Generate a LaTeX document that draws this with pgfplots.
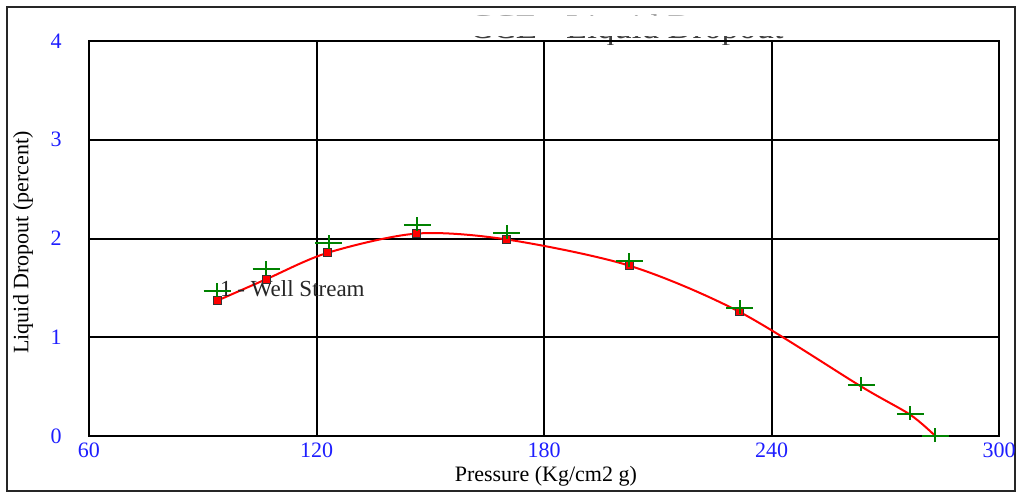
\documentclass[border=0pt]{standalone}
\usepackage{pgfplots}
\pgfplotsset{compat=1.18}
\usepackage{fontspec}
\setmainfont{Liberation Serif}
\definecolor{plusgreen}{RGB}{0,130,0}
\definecolor{ticblue}{RGB}{30,30,255}
\pgfdeclareplotmark{wplus}{%
  \pgfpathmoveto{\pgfqpoint{-6.75pt}{0pt}}\pgfpathlineto{\pgfqpoint{6.75pt}{0pt}}%
  \pgfpathmoveto{\pgfqpoint{0pt}{-3pt}}\pgfpathlineto{\pgfqpoint{0pt}{4pt}}%
  \pgfusepathqstroke}
\begin{document}
\begin{tikzpicture}
\useasboundingbox (0,0) rectangle (510.5pt,246.5pt);
\fill[white] (0,0) rectangle (510.5pt,246.5pt);
\draw[line width=1pt, black!85] (3.5pt,1pt) rectangle (507.5pt,243pt);
\begin{scope}
\clip (230pt,224pt) rectangle (400pt,228pt);
\node[anchor=base, inner sep=0pt, font=\fontsize{17.4}{20}\selectfont, text=black!75] at (313.25pt,227pt) {CCE - Liquid Dropout};
\end{scope}
\begin{scope}
\clip (230pt,238.6pt) rectangle (400pt,239.4pt);
\node[anchor=base, inner sep=0pt, font=\fontsize{17.4}{20}\selectfont, text=black!35] at (313.25pt,227pt) {CCE - Liquid Dropout};
\end{scope}
\begin{axis}[
  at={(44.5pt,28.5pt)}, anchor=south west,
  scale only axis, width=455pt, height=197.5pt,
  xmin=60, xmax=300, ymin=0, ymax=4,
  xtick={60,120,180,240,300}, ytick={0,1,2,3,4},
  major tick length=0pt,
  grid=major, major grid style={black, line width=1pt},
  axis line style={black, line width=1.2pt},
  tick label style={font=\fontsize{11}{13}\selectfont, text=ticblue},
  /pgf/number format/assume math mode=true,
  xticklabel style={anchor=north, inner sep=0pt, yshift=-3pt},
  yticklabel style={anchor=east, inner sep=0pt, xshift=-13.5pt},
  label style={font=\fontsize{11}{13}\selectfont},
  xlabel={Pressure (Kg/cm2 g)},
  ylabel={Liquid Dropout (percent)},
  xlabel style={at={(axis description cs:0.502,-0.114)}, anchor=base, inner sep=0pt},
  ylabel style={at={(axis description cs:-0.0725,0.49)}, anchor=center, inner sep=0pt},
  clip=false,
]
\addplot[red, line width=1pt, smooth, tension=0.5, no marks] coordinates {
  (93.8,1.37) (106.7,1.587) (123.0,1.856) (146.4,2.05) (170.2,1.99)
  (202.5,1.725) (231.6,1.256) (263.7,0.50) (276.6,0.215) (283.2,0.0)};
\addplot[only marks, mark=square*, mark size=2pt, mark options={fill=red, draw=black!80, line width=0.5pt}] coordinates {
  (93.8,1.37) (106.7,1.587) (123.0,1.856) (146.4,2.05) (170.2,1.99)
  (202.5,1.725) (231.6,1.256)};
\addplot[only marks, mark=wplus, mark options={draw=plusgreen, line width=1pt}] coordinates {
  (93.8,1.47) (106.7,1.688) (123.2,1.95) (146.6,2.14) (170.2,2.06)
  (202.5,1.77) (231.6,1.30) (263.7,0.52) (276.6,0.226) (283.2,0.0)};
\node[anchor=base west, inner sep=0pt, font=\fontsize{11.5}{13}\selectfont, text=black!85] at (axis cs:94.5,1.41) {1 - Well Stream};
\end{axis}
\end{tikzpicture}
\end{document}
